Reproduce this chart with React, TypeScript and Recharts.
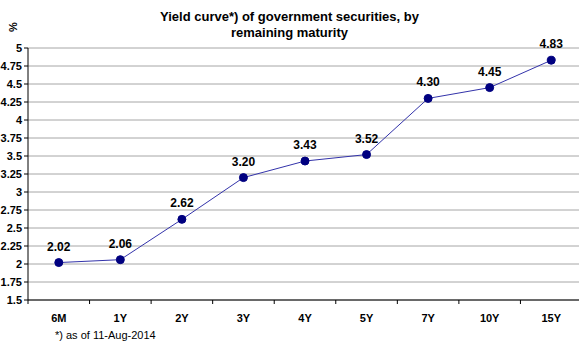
import { LineChart, Line, XAxis, YAxis, CartesianGrid, LabelList } from "recharts";

const maturities = ["6M", "1Y", "2Y", "3Y", "4Y", "5Y", "7Y", "10Y", "15Y"];
const yields = [2.02, 2.06, 2.62, 3.2, 3.43, 3.52, 4.3, 4.45, 4.83];
const yTicks = [1.5, 1.75, 2, 2.25, 2.5, 2.75, 3, 3.25, 3.5, 3.75, 4, 4.25, 4.5, 4.75, 5];

const data = maturities.map((m, i) => ({ maturity: m, value: yields[i] }));

const W = 579;
const H = 341;
const LEFT = 28;
const RIGHT_EDGE = 582;
const band = (RIGHT_EDGE - LEFT) / maturities.length;

function CategoryTick(props: any) {
  const { x, y, payload } = props;
  return (
    <g>
      <line x1={x - band / 2} x2={x - band / 2} y1={y - 8} y2={y - 4} stroke="#000" />
      {payload.index === maturities.length - 1 && (
        <line x1={x + band / 2} x2={x + band / 2} y1={y - 8} y2={y - 4} stroke="#000" />
      )}
      <text x={x} y={y + 14} textAnchor="middle" fontSize={11} fontWeight="bold" fill="#000">
        {payload.value}
      </text>
    </g>
  );
}

export default function App() {
  return (
    <div style={{ position: "absolute", left: 0, top: 0, width: W, height: H, background: "#fff", overflow: "hidden", fontFamily: "Arial, 'Liberation Sans', sans-serif" }}>
      <div style={{ position: "absolute", left: 0, top: 9, width: W, textAlign: "center", fontSize: 13, fontWeight: "bold", lineHeight: "16px" }}>
        Yield curve*) of government securities, by
        <br />
        remaining maturity
      </div>
      <div style={{ position: "absolute", left: 8, top: 21, fontSize: 11, fontWeight: "bold", transform: "rotate(-90deg)" }}>%</div>
      <LineChart width={RIGHT_EDGE} height={H} data={data} margin={{ top: 48, right: 0, bottom: 0, left: 0 }}>
        <CartesianGrid vertical={false} stroke="#a6a6a6" />
        <XAxis
          dataKey="maturity"
          stroke="#000"
          tickLine={false}
          tick={<CategoryTick />}
          interval={0}
          height={41}
          padding={{ left: band / 2, right: band / 2 }}
        />
        <YAxis
          domain={[1.5, 5]}
          ticks={yTicks}
          width={LEFT}
          stroke="#000"
          tickSize={4}
          interval={0}
          tick={{ fontSize: 11, fontWeight: "bold", fill: "#000" }}
        />
        <Line
          dataKey="value"
          stroke="#3333aa"
          strokeWidth={1}
          dot={{ r: 4, fill: "#000080", stroke: "#000080" }}
          isAnimationActive={false}
        >
          <LabelList dataKey="value" position="top" offset={12} formatter={(v: any) => Number(v).toFixed(2)} style={{ fontSize: 12, fontWeight: "bold", fill: "#000" }} />
        </Line>
      </LineChart>
      <div style={{ position: "absolute", left: 55, top: 329, fontSize: 11 }}>*) as of 11-Aug-2014</div>
    </div>
  );
}
